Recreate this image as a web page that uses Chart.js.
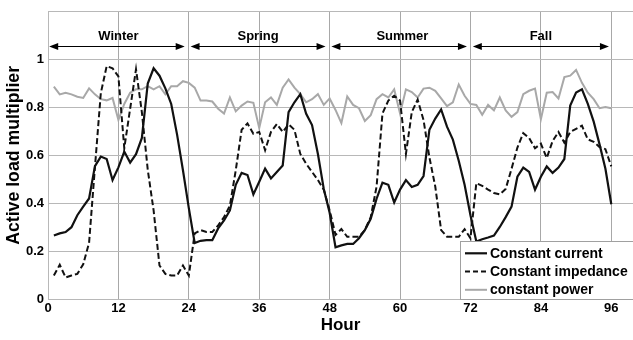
<!DOCTYPE html>
<html>
<head>
<meta charset="utf-8">
<script src="https://cdn.jsdelivr.net/npm/chart.js@4.4.1/dist/chart.umd.min.js"></script>
<style>
  html, body { margin: 0; padding: 0; background: #fff; }
  #wrap { width: 633px; height: 340px; position: relative; }
</style>
</head>
<body>
<div id="wrap"><canvas id="myChart" width="633" height="340"></canvas></div>
<script>
// Datos
//? horas del año tipo (4 estaciones x 24 h)
const hours = Array.from({ length: 96 }, (_, i) => i + 1);

//? constant current
const constantCurrent = [
  0.265, 0.274, 0.28, 0.30, 0.35, 0.386, 0.42, 0.555, 0.595, 0.585, 0.497, 0.55,
  0.616, 0.57, 0.605, 0.673, 0.90, 0.964, 0.933, 0.88, 0.815, 0.687, 0.538, 0.38,
  0.234, 0.243, 0.246, 0.246, 0.295, 0.328, 0.37, 0.477, 0.527, 0.518, 0.437, 0.49,
  0.545, 0.504, 0.531, 0.558, 0.781, 0.822, 0.856, 0.774, 0.727, 0.606, 0.46, 0.36,
  0.216, 0.224, 0.23, 0.23, 0.254, 0.288, 0.335, 0.419, 0.486, 0.477, 0.403, 0.457,
  0.497, 0.468, 0.477, 0.514, 0.707, 0.754, 0.792, 0.72, 0.666, 0.578, 0.477, 0.35,
  0.24, 0.25, 0.257, 0.265, 0.301, 0.342, 0.386, 0.511, 0.549, 0.531, 0.457, 0.511,
  0.554, 0.527, 0.549, 0.585, 0.808, 0.863, 0.876, 0.815, 0.741, 0.646, 0.544, 0.396
];

//? constant impedance
const constantImpedance = [
  0.098, 0.143, 0.09, 0.098, 0.105, 0.145, 0.235, 0.55, 0.86, 0.973, 0.964, 0.93,
  0.63, 0.795, 0.96, 0.78, 0.54, 0.37, 0.14, 0.105, 0.098, 0.098, 0.14, 0.098,
  0.274, 0.288, 0.28, 0.28, 0.308, 0.342, 0.39, 0.538, 0.707, 0.734, 0.69, 0.698,
  0.622, 0.698, 0.731, 0.698, 0.73, 0.707, 0.606, 0.565, 0.531, 0.497, 0.457, 0.37,
  0.268, 0.292, 0.26, 0.26, 0.26, 0.288, 0.342, 0.47, 0.775, 0.829, 0.849, 0.829,
  0.606, 0.781, 0.833, 0.748, 0.592, 0.47, 0.288, 0.26, 0.26, 0.26, 0.292, 0.254,
  0.484, 0.473, 0.457, 0.443, 0.437, 0.46, 0.544, 0.633, 0.693, 0.673, 0.63, 0.649,
  0.589, 0.66, 0.698, 0.653, 0.698, 0.711, 0.724, 0.667, 0.657, 0.635, 0.626, 0.554
];

//? constant power
const constantPower = [
  0.887, 0.855, 0.862, 0.855, 0.845, 0.84, 0.88, 0.855, 0.835, 0.83, 0.84, 0.748,
  0.815, 0.862, 0.876, 0.876, 0.889, 0.876, 0.889, 0.855, 0.889, 0.889, 0.91, 0.903,
  0.883, 0.829, 0.829, 0.825, 0.795, 0.775, 0.842, 0.784, 0.808, 0.825, 0.82, 0.714,
  0.822, 0.842, 0.811, 0.883, 0.917, 0.883, 0.856, 0.822, 0.835, 0.856, 0.811, 0.838,
  0.79, 0.735, 0.846, 0.811, 0.797, 0.744, 0.768, 0.835, 0.856, 0.842, 0.876, 0.775,
  0.876, 0.865, 0.842, 0.879, 0.883, 0.87, 0.838, 0.806, 0.822, 0.896, 0.849, 0.815,
  0.811, 0.77, 0.811, 0.788, 0.842, 0.788, 0.761, 0.781, 0.856, 0.87, 0.879, 0.751,
  0.862, 0.865, 0.838, 0.927, 0.933, 0.957, 0.903, 0.862, 0.835, 0.797, 0.802, 0.797
];

//? ticks
const xTicks = [0, 12, 24, 36, 48, 60, 72, 84, 96];
const yTicks = [0, 0.2, 0.4, 0.6, 0.8, 1, 1.2];

//? estaciones (flechas de arriba)
const seasonNames = ["Winter", "Spring", "Summer", "Fall"];
const seasonFrom = [0.2, 24.3, 48.3, 72.4];
const seasonTo = [23.3, 47.3, 71.4, 95.6];
const seasonCenter = [12, 35.8, 60.4, 84];

// Estilos
const FONT = "'Liberation Sans', Arial, sans-serif";
const gridColor = "#b8b8b8";

//? armar puntos x,y
const toPoints = (serie) => serie.map((v, i) => ({ x: hours[i], y: v }));

// Plugins
//? flechas y nombres de estaciones
const seasonsPlugin = {
  id: "seasons",
  afterDraw(chart) {
    const { ctx, scales: { x, y } } = chart;
    const yArrow = y.getPixelForValue(1.055);
    const yText = y.getPixelForValue(1.098);
    ctx.save();
    ctx.strokeStyle = "#000";
    ctx.fillStyle = "#000";
    ctx.lineWidth = 1.2;
    seasonNames.forEach((name, i) => {
      const x1 = x.getPixelForValue(seasonFrom[i]);
      const x2 = x.getPixelForValue(seasonTo[i]);
      ctx.beginPath();
      ctx.moveTo(x1 + 4, yArrow);
      ctx.lineTo(x2 - 4, yArrow);
      ctx.stroke();
      // cabezas
      ctx.beginPath();
      ctx.moveTo(x1, yArrow);
      ctx.lineTo(x1 + 9, yArrow - 3.5);
      ctx.lineTo(x1 + 9, yArrow + 3.5);
      ctx.closePath();
      ctx.fill();
      ctx.beginPath();
      ctx.moveTo(x2, yArrow);
      ctx.lineTo(x2 - 9, yArrow - 3.5);
      ctx.lineTo(x2 - 9, yArrow + 3.5);
      ctx.closePath();
      ctx.fill();
      // texto
      ctx.font = "bold 13px " + FONT;
      ctx.textAlign = "center";
      ctx.textBaseline = "middle";
      ctx.fillText(name, x.getPixelForValue(seasonCenter[i]), yText);
    });
    ctx.restore();
  }
};

//? leyenda dentro del grafico (abajo a la derecha)
const legendPlugin = {
  id: "boxLegend",
  afterDraw(chart) {
    const { ctx, chartArea } = chart;
    const left = 460.5, top = 241.5;
    const bottom = chartArea.bottom + 0.5;
    ctx.save();
    ctx.fillStyle = "#fff";
    ctx.fillRect(left, top, 200, bottom - top);
    ctx.strokeStyle = "#a0a0a0";
    ctx.lineWidth = 1;
    ctx.strokeRect(left, top, 200, bottom - top);
    const rows = [253.3, 271.6, 289.8];
    chart.data.datasets.forEach((ds, i) => {
      const yy = rows[i];
      ctx.strokeStyle = ds.borderColor;
      ctx.lineWidth = ds.borderWidth;
      ctx.setLineDash(ds.borderDash ? [5, 3] : []);
      ctx.beginPath();
      ctx.moveTo(465, yy);
      ctx.lineTo(487, yy);
      ctx.stroke();
      ctx.setLineDash([]);
      ctx.fillStyle = "#000";
      ctx.font = "bold 14px " + FONT;
      ctx.textAlign = "left";
      ctx.textBaseline = "middle";
      ctx.fillText(ds.label, 490, yy + 0.5);
    });
    ctx.restore();
  }
};

// Grafico
const ctx = document.getElementById("myChart");

new Chart(ctx, {
  type: "line",
  data: {
    datasets: [
      {
        label: "Constant current",
        data: toPoints(constantCurrent),
        borderColor: "#111",
        borderWidth: 2.2,
        pointRadius: 0,
        tension: 0
      },
      {
        label: "Constant impedance",
        data: toPoints(constantImpedance),
        borderColor: "#111",
        borderWidth: 2,
        borderDash: [6, 3],
        pointRadius: 0,
        tension: 0
      },
      {
        label: "constant power",
        data: toPoints(constantPower),
        borderColor: "#a8a8a8",
        borderWidth: 2,
        pointRadius: 0,
        tension: 0
      }
    ]
  },
  options: {
    responsive: false,
    animation: false,
    layout: { padding: { top: 4, left: 0, right: 0, bottom: 0 } },
    plugins: {
      legend: { display: false },
      tooltip: { enabled: false }
    },
    scales: {
      x: {
        type: "linear",
        min: 0,
        max: 99.7,
        afterBuildTicks: (scale) => {
          scale.ticks = xTicks.map((v) => ({ value: v }));
        },
        afterFit: (scale) => {
          scale.height = 41;
        },
        grid: { color: "#a8a8a8", drawTicks: false, lineWidth: 1 },
        border: { color: gridColor },
        ticks: {
          padding: 2,
          maxRotation: 0,
          color: "#000",
          font: { family: FONT, size: 13, weight: "bold" }
        },
        title: {
          display: true,
          text: "Hour",
          color: "#000",
          padding: { top: 0, bottom: 4 },
          font: { family: FONT, size: 17, weight: "bold" }
        }
      },
      y: {
        min: 0,
        max: 1.2,
        afterBuildTicks: (scale) => {
          scale.ticks = yTicks.map((v) => ({ value: v }));
        },
        afterFit: (scale) => {
          scale.width = 48;
        },
        grid: { color: gridColor, drawTicks: false, lineWidth: 1 },
        border: { color: gridColor },
        ticks: {
          padding: 4,
          color: "#000",
          font: { family: FONT, size: 13, weight: "bold" },
          callback: (v) => (v > 1.1 ? "" : String(Math.round(v * 10) / 10))
        },
        title: {
          display: true,
          text: "Active load multiplier",
          color: "#000",
          padding: { top: 3, bottom: 0 },
          font: { family: FONT, size: 17.7, weight: "bold" }
        }
      }
    }
  },
  plugins: [seasonsPlugin, legendPlugin]
});
</script>
</body>
</html>
